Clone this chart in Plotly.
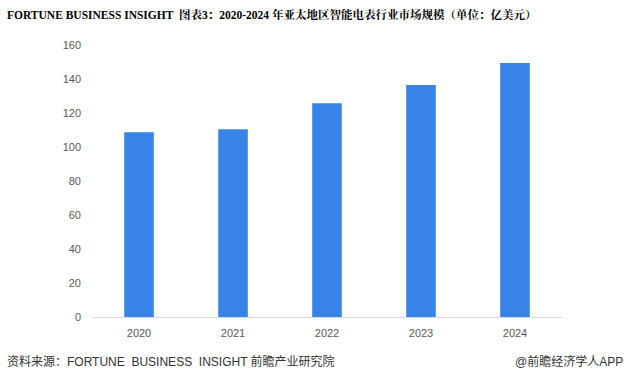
import plotly.graph_objects as go

years = ["2020", "2021", "2022", "2023", "2024"]
market_size = [108.7, 110.5, 125.8, 136.4, 149.4]
y_ticks = [0, 20, 40, 60, 80, 100, 120, 140, 160]

title_text = "FORTUNE BUSINESS INSIGHT  图表3：2020-2024 年亚太地区智能电表行业市场规模（单位：亿美元）"
source_text = "资料来源：FORTUNE  BUSINESS  INSIGHT 前瞻产业研究院"
credit_text = "@前瞻经济学人APP"

fig = go.Figure()
fig.add_trace(go.Bar(
    x=years, y=market_size,
    marker=dict(color="#3784E6", line=dict(width=0)),
    width=0.315,
))

fig.update_layout(
    width=630, height=374,
    margin=dict(l=92, r=68, t=45, b=57),
    paper_bgcolor="white", plot_bgcolor="white",
    showlegend=False,
    font=dict(family="Liberation Sans, Noto Sans CJK SC, sans-serif", size=11, color="#595959"),
    xaxis=dict(
        type="category",
        showline=True, linecolor="#D9D9D9", linewidth=1,
        showgrid=False, ticks="", ticklabelstandoff=6,
        tickfont=dict(size=11, color="#595959"),
    ),
    yaxis=dict(
        range=[0, 160], tickvals=y_ticks,
        showgrid=False, zeroline=False, showline=False,
        ticks="", ticklabelstandoff=10,
        tickfont=dict(size=11, color="#595959"),
    ),
    annotations=[
        dict(text="<b>" + title_text + "</b>", xref="paper", yref="paper",
             x=-87/470, y=1 + 30/271.5, xanchor="left", yanchor="middle",
             showarrow=False,
             font=dict(family="Liberation Serif, Noto Serif CJK SC, Noto Sans CJK SC, serif", size=11.5, color="#000000")),
        dict(text=source_text, xref="paper", yref="paper",
             x=-87/470, y=-44.5/271.5, xanchor="left", yanchor="middle",
             showarrow=False,
             font=dict(family="Liberation Sans, Noto Sans CJK SC, sans-serif", size=12, color="#333333")),
        dict(text=credit_text, xref="paper", yref="paper",
             x=1 + 63/470, y=-44.5/271.5, xanchor="right", yanchor="middle",
             showarrow=False,
             font=dict(family="Liberation Sans, Noto Sans CJK SC, sans-serif", size=12, color="#333333")),
    ],
)

fig.write_html("out.html", config={"displayModeBar": False},
               post_script="document.body.style.margin='0';document.body.style.padding='0';")
